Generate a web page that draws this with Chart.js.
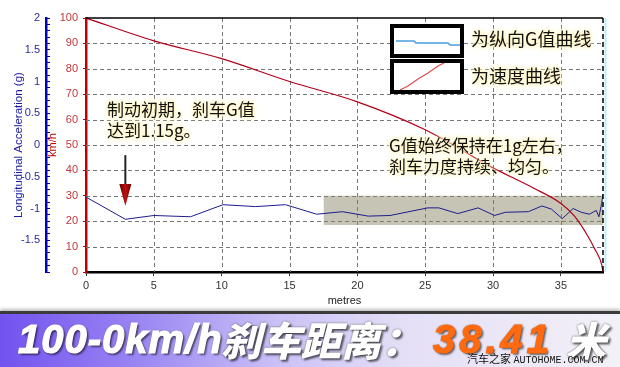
<!DOCTYPE html>
<html>
<head>
<meta charset="utf-8">
<script src="https://cdn.jsdelivr.net/npm/chart.js@4/dist/chart.umd.min.js"></script>
<style>
  body { margin: 0; background: #fff; }
  #wrap { position: relative; width: 620px; height: 367px; overflow: hidden; background: #fff; }
  #brakeChart { position: absolute; left: 0; top: 0; }
  .note {
    position: absolute; font-family: "Noto Sans CJK SC", sans-serif; font-size: 17px; line-height: 21px;
    color: #111; white-space: nowrap;
    text-shadow: 0 0 3px #fff6c8, 0 0 3px #fff6c8, 0 0 6px #fff2b8, 0 0 6px #fff2b8;
  }
  .keybox { position: absolute; width: 66px; background: #fff; border: 4px solid #000; }
  #banner {
    position: absolute; left: 0; top: 311px; width: 620px; height: 56px;
    border-top: 3px solid #3c3c3c; box-shadow: 0 -2px 3px rgba(0,0,0,0.25);
    background: linear-gradient(90deg, #7352ef 0%, #9a85f3 22%, #cbc1f6 45%, #e4dff6 65%, #f3f1f8 100%);
  }
  .big { position: absolute; top: 3px; font-size: 40px; line-height: 44px; font-style: italic; font-weight: bold;
    white-space: nowrap; text-shadow: 2px 2px 2px rgba(0,0,0,0.55), 0 0 2px #555; }
  .latin { font-family: "Liberation Sans", Arial, sans-serif; -webkit-text-stroke: 1.2px currentColor; }
  .cjk { font-family: "Noto Sans CJK SC", sans-serif; font-weight: 900; }
  #mark { position: absolute; left: 467px; top: 36px; font-size: 11px; color: #111; white-space: nowrap;
    font-family: "Noto Sans CJK SC", sans-serif; }
  #mark span { font-family: "Liberation Mono", monospace; font-size: 10px; }
</style>
</head>
<body>
<div id="wrap">
  <canvas id="brakeChart" width="620" height="310"></canvas>

  <div class="note" style="left:107px;top:98px">制动初期，刹车G值<br>达到1.15g。</div>
  <div class="note" style="left:389px;top:134px">G值始终保持在1g左右，<br>刹车力度持续、均匀。</div>

  <div class="keybox" style="left:390px;top:24px;height:26px">
    <svg width="66" height="26"><polyline points="2,13 20,13 22,15 54,15 56,17 66,17" fill="none" stroke="#4a9de0" stroke-width="1.5"/></svg>
  </div>
  <div class="note" style="left:471px;top:28px;font-size:18px">为纵向G值曲线</div>
  <div class="keybox" style="left:390px;top:59px;height:27px">
    <svg width="66" height="27"><polyline points="6,27 14,23 24,16 34,10 44,3 50,0" fill="none" stroke="#e05050" stroke-width="1.3"/></svg>
  </div>
  <div class="note" style="left:471px;top:65px;font-size:18px">为速度曲线</div>

  <div id="banner">
    <div class="big latin" style="left:18px;color:#fff;letter-spacing:1px">100-0km/h</div>
    <div class="big cjk" style="left:221px;color:#fff">刹车距离：</div>
    <div class="big latin" style="left:433px;color:#ff6a10;letter-spacing:4px">38.41</div>
    <div class="big cjk" style="left:566px;color:#fff">米</div>
    <div id="mark">汽车之家 <span>AUTOHOME.COM.CN</span></div>
  </div>
</div>

<script>
// Speed curve (metres -> km/h)
const speedDist = [0, 5, 10, 15, 20, 25, 30, 33, 35, 36, 37, 37.5, 38, 38.1];
const speedKmh = [100, 91, 84, 75, 67, 56, 41, 33, 27, 22, 14, 9, 3, 0];

// Longitudinal G curve (metres -> g)
const gDist = [0, 2.9, 5, 7.7, 10.1, 12.5, 14.7, 17, 18.9, 20.8, 22.4, 25.2, 26, 27.4, 28.9,
  30.1, 30.9, 32.6, 33.6, 34.3, 35.1, 35.9, 36.5, 37.1, 37.6, 37.8, 38.0, 38.1];
const gValue = [-0.82, -1.17, -1.11, -1.13, -0.94, -0.97, -0.94, -1.09, -1.05, -1.12, -1.11, -0.99, -0.99, -1.08, -0.99,
  -1.11, -1.06, -1.05, -0.96, -1.01, -1.16, -1.0, -1.06, -1.09, -1.03, -1.13, -0.92, -0.78];

// Shaded "steady" band, in km/h axis units
const bandDist = [17.5, 38.1];
const bandTop = [30, 30];
const bandBottom = [18.5, 18.5];

// Arrow marking the initial peak: metres, from km/h, to km/h
const arrowDist = 2.9;
const arrowFrom = 46;
const arrowTo = 26;

const xMax = 38.1;

const pts = (xs, ys) => xs.map((x, i) => ({ x: x, y: ys[i] }));

// Dashed grid, frame lines and the arrow annotation
const framePlugin = {
  id: 'framePlugin',
  beforeDatasetsDraw(chart) {
    const { ctx, chartArea: a, scales } = chart;
    ctx.save();
    ctx.strokeStyle = '#777';
    ctx.lineWidth = 1;
    ctx.setLineDash([4, 3]);
    scales.x.ticks.filter(t => t.value > 0).forEach(t => {
      const px = Math.round(scales.x.getPixelForValue(t.value)) + 0.5;
      ctx.beginPath(); ctx.moveTo(px, a.top); ctx.lineTo(px, a.bottom); ctx.stroke();
    });
    scales.y.ticks.filter(t => t.value > 0 && t.value < 100).forEach(t => {
      const py = Math.round(scales.y.getPixelForValue(t.value)) + 0.5;
      ctx.beginPath(); ctx.moveTo(a.left, py); ctx.lineTo(a.right, py); ctx.stroke();
    });
    ctx.restore();
  },
  afterDatasetsDraw(chart) {
    const { ctx, chartArea: a, scales } = chart;
    ctx.save();
    ctx.strokeStyle = '#000';
    ctx.lineWidth = 1.5;
    ctx.beginPath(); ctx.moveTo(a.left, a.top); ctx.lineTo(a.right, a.top); ctx.stroke();
    ctx.setLineDash([5, 3]);
    ctx.beginPath(); ctx.moveTo(a.right, a.top); ctx.lineTo(a.right, a.bottom); ctx.stroke();
    ctx.setLineDash([]);
    ctx.strokeStyle = '#bdeef8';
    ctx.lineWidth = 2;
    ctx.beginPath(); ctx.moveTo(a.right + 2.5, a.top); ctx.lineTo(a.right + 2.5, a.bottom); ctx.stroke();

    // arrow
    const x = scales.x.getPixelForValue(arrowDist);
    const y0 = scales.y.getPixelForValue(arrowFrom);
    const y1 = scales.y.getPixelForValue(arrowTo);
    const headH = 22;
    ctx.strokeStyle = '#222';
    ctx.lineWidth = 2;
    ctx.beginPath(); ctx.moveTo(x, y0); ctx.lineTo(x, y1 - headH); ctx.stroke();
    const grad = ctx.createLinearGradient(x - 6, 0, x + 6, 0);
    grad.addColorStop(0, '#5a0000');
    grad.addColorStop(0.5, '#c01010');
    grad.addColorStop(1, '#6a0000');
    ctx.fillStyle = grad;
    ctx.beginPath();
    ctx.moveTo(x - 6, y1 - headH);
    ctx.lineTo(x + 6, y1 - headH);
    ctx.lineTo(x, y1);
    ctx.closePath();
    ctx.fill();
    ctx.restore();
  }
};

const ctx = document.getElementById('brakeChart');
new Chart(ctx, {
  type: 'line',
  data: {
    datasets: [{
      label: 'speed',
      data: pts(speedDist, speedKmh),
      yAxisID: 'y',
      borderColor: '#b00018',
      borderWidth: 1.2,
      pointRadius: 0,
      cubicInterpolationMode: 'monotone',
      fill: false
    }, {
      label: 'g',
      data: pts(gDist, gValue),
      yAxisID: 'g',
      borderColor: '#1c1c8c',
      borderWidth: 1,
      pointRadius: 0,
      tension: 0,
      fill: false
    }, {
      label: 'bandTop',
      data: pts(bandDist, bandTop),
      yAxisID: 'y',
      borderWidth: 0,
      pointRadius: 0,
      backgroundColor: 'rgba(135,133,100,0.48)',
      fill: '+1'
    }, {
      label: 'bandBottom',
      data: pts(bandDist, bandBottom),
      yAxisID: 'y',
      borderWidth: 0,
      pointRadius: 0,
      fill: false
    }]
  },
  options: {
    responsive: false,
    animation: false,
    layout: { padding: { top: 18, right: 17, bottom: 0, left: 0 } },
    scales: {
      x: {
        type: 'linear',
        min: 0,
        max: xMax,
        afterBuildTicks: (scale) => { scale.ticks = scale.ticks.filter(t => t.value % 5 === 0); },
        afterFit: (scale) => { scale.height = 38; },
        ticks: { stepSize: 5, color: '#333', padding: 3, font: { size: 11, family: 'Liberation Sans' } },
        grid: { drawOnChartArea: false, color: '#333', tickColor: '#333', tickLength: 4 },
        border: { color: '#000', width: 2.5 },
        title: { display: true, text: 'metres', color: '#222', padding: { top: 0, bottom: 2 },
          font: { size: 11, family: 'Liberation Sans' } }
      },
      y: {
        position: 'left',
        weight: 0,
        min: 0,
        max: 100,
        afterFit: (scale) => { scale.width = 40; },
        ticks: { stepSize: 10, color: '#c03838', padding: 5, font: { size: 11, family: 'Liberation Sans' } },
        grid: { drawOnChartArea: false, color: '#c00000', tickColor: '#c00000', tickLength: 3 },
        border: { color: '#c00000', width: 2.5 },
        title: { display: true, text: 'km/h', color: '#c00000', padding: { top: 0, bottom: 0 },
          font: { size: 11, family: 'Liberation Sans' } }
      },
      g: {
        position: 'left',
        weight: 1,
        min: -2,
        max: 2,
        afterFit: (scale) => { scale.width = 46; },
        ticks: {
          stepSize: 0.1,
          autoSkip: false,
          color: '#2a2aa0',
          padding: 10,
          font: { size: 11, family: 'Liberation Sans' },
          callback: (v) => {
            const r = Math.round(v * 10);
            if (r % 5 !== 0 || r === -20) return '';
            return String(r / 10);
          }
        },
        grid: { drawOnChartArea: false, color: '#0000b0', tickColor: '#0000b0', tickLength: -4 },
        border: { color: '#0000b0', width: 2.5 },
        title: { display: true, text: 'Longitudinal Acceleration (g)', color: '#1a1aa0', padding: { top: 12, bottom: 0 },
          font: { size: 11.5, family: 'Liberation Sans' } }
      }
    },
    plugins: {
      legend: { display: false },
      tooltip: { enabled: false }
    }
  },
  plugins: [framePlugin]
});
</script>
</body>
</html>
